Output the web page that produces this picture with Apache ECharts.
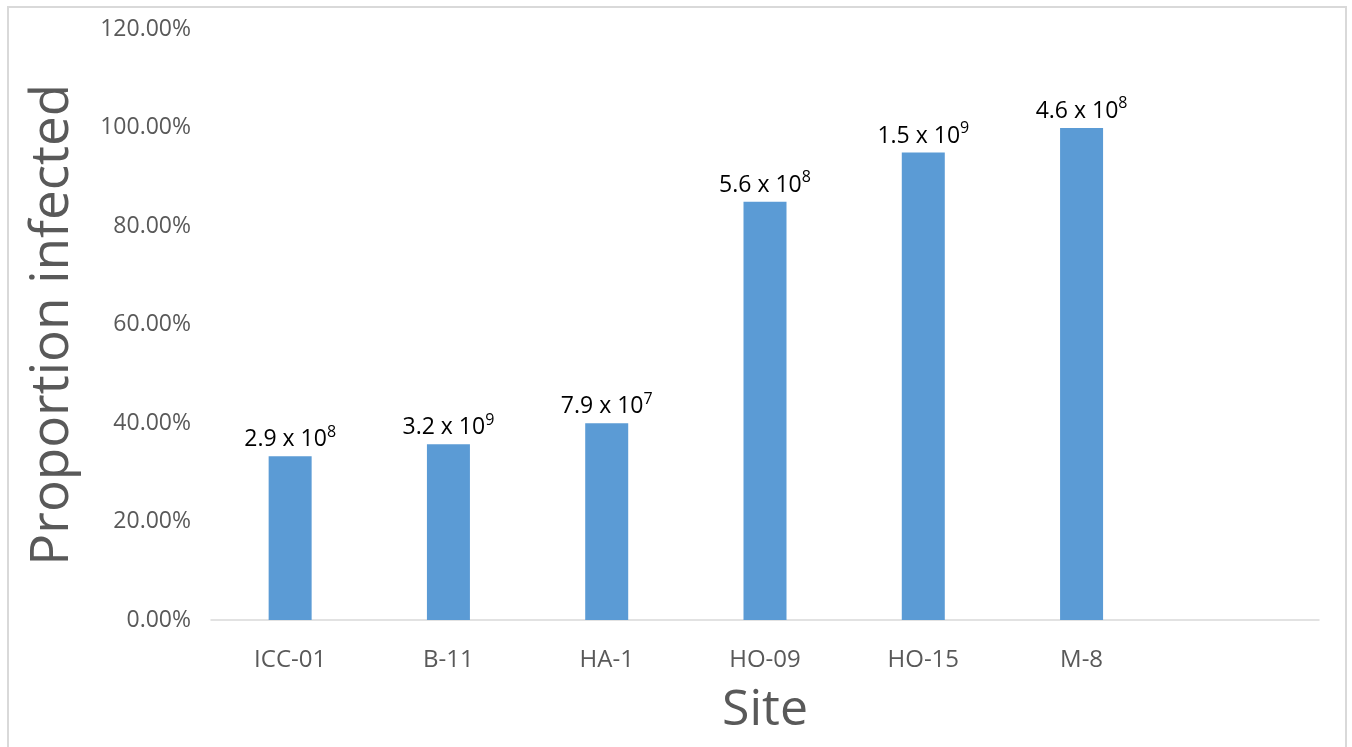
<!DOCTYPE html>
<html>
<head>
<meta charset="utf-8">
<script src="https://cdn.jsdelivr.net/npm/echarts@6/dist/echarts.min.js"></script>
<style>
  html, body { margin: 0; padding: 0; background: #fff; }
  #chart { width: 1352px; height: 747px; }
</style>
</head>
<body>
<div id="chart"></div>
<script>
  // sites (last slot is empty in the original)
  var sites = ['ICC-01', 'B-11', 'HA-1', 'HO-09', 'HO-15', 'M-8', ''];
  // proportion infected, percent
  var infected = [33.3, 35.7, 40.0, 85.0, 95.0, 100.0, null];
  // label above each bar: mantissa and exponent
  var mantissa = ['2.9', '3.2', '7.9', '5.6', '1.5', '4.6', ''];
  var exponent = ['8', '9', '7', '8', '9', '8', ''];

  var font = '"Open Sans", "DejaVu Sans", sans-serif';
  var chart = echarts.init(document.getElementById('chart'));

  chart.setOption({
    animation: false,
    textStyle: { fontFamily: font },
    grid: { left: 211, right: 33, top: 29.5, bottom: 127 },
    graphic: [{
      type: 'rect',
      shape: { x: 8, y: 7, width: 1338, height: 760 },
      style: { fill: 'none', stroke: '#d9d9d9', lineWidth: 2 },
      silent: true
    }],
    xAxis: {
      type: 'category',
      data: sites,
      name: 'Site',
      nameLocation: 'middle',
      nameGap: 66,
      nameTextStyle: { fontSize: 50, color: '#595959', fontFamily: font },
      axisLine: { lineStyle: { color: '#d9d9d9', width: 1.5 } },
      axisTick: { show: false },
      axisLabel: { fontSize: 24, color: '#595959', margin: 28, fontFamily: font }
    },
    yAxis: {
      type: 'value',
      min: 0,
      max: 120,
      interval: 20,
      name: 'Proportion infected',
      nameLocation: 'middle',
      nameGap: 132,
      nameTextStyle: { fontSize: 53, color: '#595959', fontFamily: font },
      axisLine: { show: false },
      axisTick: { show: false },
      splitLine: { show: false },
      axisLabel: {
        fontSize: 23,
        color: '#595959',
        margin: 20,
        fontFamily: font,
        formatter: function (v) { return v.toFixed(2) + '%'; }
      }
    },
    series: [{
      type: 'bar',
      data: infected,
      barWidth: 43,
      itemStyle: { color: '#5b9bd5' },
      label: {
        show: true,
        position: 'top',
        distance: 5,
        formatter: function (p) {
          return '{m|' + mantissa[p.dataIndex] + ' x 10}{e|' + exponent[p.dataIndex] + '}';
        },
        rich: {
          m: { fontSize: 23, color: '#000', fontFamily: font, verticalAlign: 'bottom' },
          e: { fontSize: 16, color: '#000', fontFamily: font, padding: [0, 0, 11, 0], verticalAlign: 'bottom' }
        }
      }
    }]
  });
</script>
</body>
</html>
